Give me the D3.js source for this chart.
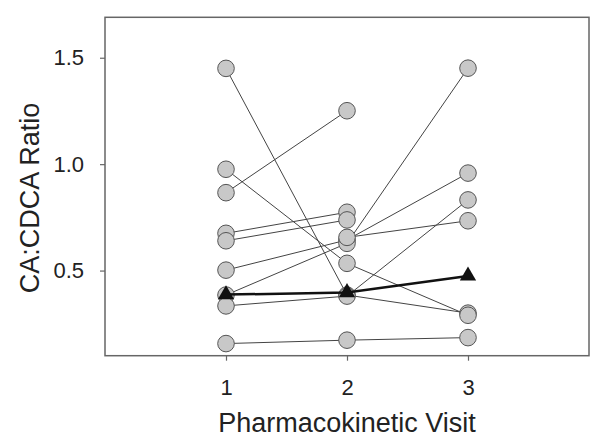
<!DOCTYPE html>
<html>
<head>
<meta charset="utf-8">
<script src="https://cdn.jsdelivr.net/npm/d3@7"></script>
<style>
  body { margin: 0; background: #fff; }
  text { font-family: "Liberation Sans", Arial, sans-serif; fill: #222; }
</style>
</head>
<body>
<div id="chart"></div>
<script>
// ratio per subject at each pharmacokinetic visit (null = not measured)
var visits = [1, 2, 3];
var visit1 = [1.45, 0.976, 0.866, 0.675, 0.640, 0.502, 0.385, 0.334, 0.157, null];
var visit2 = [0.385, 0.534, 1.251, 0.774, 0.738, 0.644, 0.628, 0.380, 0.173, 0.656];
var visit3 = [0.300, 0.290, null, null, null, 0.958, 1.451, 0.832, 0.185, 0.734];
var meanRatio = [0.387, 0.397, 0.475];
var yTicks = [0.5, 1.0, 1.5];
var yLabels = ["0.5", "1.0", "1.5"];

var width = 600, height = 445;

var svg = d3.select("#chart").append("svg")
    .attr("width", width)
    .attr("height", height);

var x = d3.scaleLinear().domain([0, 4]).range([105, 589]);
var y = d3.scaleLinear().domain([0.1, 1.69]).range([355.7, 17.3]);

// frame
svg.append("rect")
    .attr("x", x(0)).attr("y", y(1.69))
    .attr("width", x(4) - x(0)).attr("height", y(0.1) - y(1.69))
    .attr("fill", "none").attr("stroke", "#666").attr("stroke-width", 1.5);

var yAxis = svg.append("g")
    .attr("transform", "translate(" + x(0) + ",0)")
    .call(d3.axisLeft(y).tickValues(yTicks).tickSize(5).tickPadding(16)
        .tickFormat(function(d, i) { return yLabels[i]; }));
var xAxis = svg.append("g")
    .attr("transform", "translate(0," + y(0.1) + ")")
    .call(d3.axisBottom(x).tickValues(visits).tickSize(5).tickPadding(19)
        .tickFormat(d3.format("d")));

[xAxis, yAxis].forEach(function(a) {
    a.select(".domain").remove();
    a.selectAll(".tick line").attr("stroke", "#666").attr("stroke-width", 1.2);
    a.selectAll(".tick text").style("font-size", "22px").attr("fill", "#222");
});

svg.append("text")
    .attr("x", 347).attr("y", 432)
    .attr("text-anchor", "middle")
    .style("font-size", "27px")
    .text("Pharmacokinetic Visit");

svg.append("text")
    .attr("transform", "translate(39,198) rotate(-90)")
    .attr("text-anchor", "middle")
    .style("font-size", "27px")
    .text("CA:CDCA Ratio");

// subjects
var subjects = visit1.map(function(v, i) {
    return [v, visit2[i], visit3[i]].map(function(r, j) {
        return { visit: visits[j], value: r };
    }).filter(function(p) { return p.value !== null; });
});

var line = d3.line()
    .x(function(d) { return x(d.visit); })
    .y(function(d) { return y(d.value); });

svg.append("g").selectAll("path")
    .data(subjects)
    .enter().append("path")
    .attr("d", line)
    .attr("fill", "none")
    .attr("stroke", "#444")
    .attr("stroke-width", 1);

var points = [];
subjects.forEach(function(s) { s.forEach(function(p) { points.push(p); }); });

svg.append("g").selectAll("circle")
    .data(points)
    .enter().append("circle")
    .attr("cx", function(d) { return x(d.visit); })
    .attr("cy", function(d) { return y(d.value); })
    .attr("r", 8.3)
    .attr("fill", "#c8c8c8")
    .attr("stroke", "#555")
    .attr("stroke-width", 1);

// mean
var mean = meanRatio.map(function(v, i) { return { visit: visits[i], value: v }; });
svg.append("path")
    .datum(mean)
    .attr("d", line)
    .attr("fill", "none")
    .attr("stroke", "#111")
    .attr("stroke-width", 2.5);

svg.append("g").selectAll("path")
    .data(mean)
    .enter().append("path")
    .attr("d", d3.symbol().type(d3.symbolTriangle).size(115))
    .attr("transform", function(d) { return "translate(" + x(d.visit) + "," + y(d.value) + ")"; })
    .attr("fill", "#111");
</script>
</body>
</html>
